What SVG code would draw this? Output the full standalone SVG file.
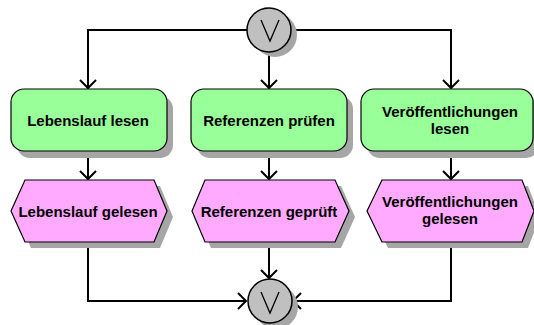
<svg xmlns="http://www.w3.org/2000/svg" width="534" height="325" viewBox="0 0 534 325">
<defs>
<style>
.fn{fill:#99ff99;stroke:#000;stroke-width:1.2}
.ev{fill:#ffaaff;stroke:#000;stroke-width:1.2}
.sh{fill:#a6a6a6}
.op{fill:#c0c0c0;stroke:#000;stroke-width:1.5}
.v{fill:none;stroke:#000;stroke-width:1.3}
.t{font-family:"Liberation Sans",Arial,sans-serif;font-size:15px;font-weight:bold;fill:#000;text-anchor:middle}
.c{fill:none;stroke:#000;stroke-width:2}
</style>
<marker id="ah" markerWidth="20" markerHeight="20" viewBox="-10 -10 20 20" refX="0" refY="0" orient="auto" markerUnits="userSpaceOnUse">
<path d="M-8,-8 L0,0 L-8,8" fill="none" stroke="#000" stroke-width="2"/>
</marker>
</defs>
<rect width="534" height="325" fill="#fff"/>
<g id="connectors">
<path class="c" d="M247,30 H88 V88" marker-end="url(#ah)"/>
<path class="c" d="M269,52 V88" marker-end="url(#ah)"/>
<path class="c" d="M291,30 H451 V88" marker-end="url(#ah)"/>
<path class="c" d="M88,151 V179" marker-end="url(#ah)"/>
<path class="c" d="M269,151 V179" marker-end="url(#ah)"/>
<path class="c" d="M451,151 V179" marker-end="url(#ah)"/>
<path class="c" d="M88,242 V301 H246" marker-end="url(#ah)"/>
<path class="c" d="M269,242 V278" marker-end="url(#ah)"/>
<path class="c" d="M451,242 V301 H293" marker-end="url(#ah)"/>
</g>
<g id="xor-split">
<circle class="sh" cx="275" cy="35" r="22"/>
<circle class="op" cx="269" cy="30" r="22"/>
<path class="v" d="M261,20 L270,41 L279,20"/>
</g>
<g id="f1">
<rect class="sh" x="17" y="96" width="156" height="62" rx="13"/>
<rect class="fn" x="11" y="89" width="156" height="62" rx="13"/>
<text class="t" x="88" y="126">Lebenslauf lesen</text>
</g>
<g id="f2">
<rect class="sh" x="197" y="96" width="156" height="62" rx="13"/>
<rect class="fn" x="191" y="89" width="156" height="62" rx="13"/>
<text class="t" x="269" y="126">Referenzen prüfen</text>
</g>
<g id="f3">
<rect class="sh" x="367" y="96" width="172" height="62" rx="13"/>
<rect class="fn" x="361" y="89" width="172" height="62" rx="13"/>
<text class="t" x="450" y="117">Veröffentlichungen</text>
<text class="t" x="450" y="134">lesen</text>
</g>
<g id="e1">
<polygon class="sh" points="17,217 31,186 160,186 173,217 160,248 31,248"/>
<polygon class="ev" points="11,211 25,180 154,180 167,211 154,242 25,242"/>
<text class="t" x="88" y="217">Lebenslauf gelesen</text>
</g>
<g id="e2">
<polygon class="sh" points="198,217 211,186 341,186 355,217 341,248 211,248"/>
<polygon class="ev" points="192,211 205,180 335,180 349,211 335,242 205,242"/>
<text class="t" x="269" y="217">Referenzen geprüft</text>
</g>
<g id="e3">
<polygon class="sh" points="373,217 388,186 528,186 540,217 528,248 388,248"/>
<polygon class="ev" points="367,211 382,180 522,180 534,211 522,242 382,242"/>
<text class="t" x="450" y="207">Veröffentlichungen</text>
<text class="t" x="450" y="224">gelesen</text>
</g>
<g id="xor-join">
<circle class="sh" cx="276" cy="307" r="22"/>
<circle class="op" cx="270" cy="301" r="22"/>
<path class="v" d="M261,292 L270,313 L279,292"/>
</g>
</svg>
